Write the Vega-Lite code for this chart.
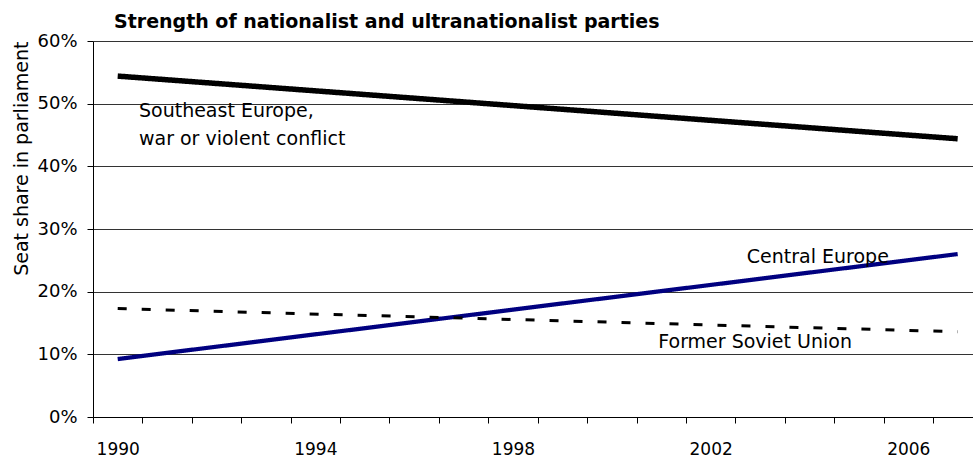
{
  "$schema": "https://vega.github.io/schema/vega-lite/v6.json",
  "width": 880,
  "height": 376,
  "autosize": {"type": "none"},
  "padding": {"left": 93, "top": 41, "right": 0, "bottom": 40},
  "background": "white",
  "title": {
    "text": "Strength of nationalist and ultranationalist parties",
    "anchor": "start",
    "frame": "group",
    "font": "DejaVu Sans",
    "fontSize": 19,
    "fontWeight": "bold",
    "color": "black",
    "dx": 21,
    "offset": 0
  },
  "config": {"view": {"stroke": null}, "font": "DejaVu Sans"},
  "layer": [
    {
      "data": {
        "values": [
          {"year": 1990, "share": 0.544, "series": "Southeast Europe"},
          {"year": 2007, "share": 0.444, "series": "Southeast Europe"},
          {"year": 1990, "share": 0.0925, "series": "Central Europe"},
          {"year": 2007, "share": 0.26, "series": "Central Europe"},
          {"year": 1990, "share": 0.173, "series": "Former Soviet Union"},
          {"year": 2007, "share": 0.136, "series": "Former Soviet Union"}
        ]
      },
      "mark": {"type": "line", "strokeCap": "butt"},
      "encoding": {
        "x": {
          "field": "year",
          "type": "quantitative",
          "scale": {"domain": [1989.5, 2007.31], "nice": false, "zero": false},
          "axis": {
            "values": [1989.5, 1990.5, 1991.5, 1992.5, 1993.5, 1994.5, 1995.5, 1996.5, 1997.5, 1998.5, 1999.5, 2000.5, 2001.5, 2002.5, 2003.5, 2004.5, 2005.5, 2006.5],
            "labelExpr": "(datum.value + 0.5) % 4 == 2 ? format(datum.value + 0.5, 'd') : ''",
            "labelOffset": 24.7,
            "labelOverlap": false,
            "labelFlush": false,
            "labelBound": false,
            "labelFont": "DejaVu Sans",
            "labelFontSize": 17,
            "labelColor": "black",
            "labelPadding": 18,
            "grid": false,
            "domainColor": "black",
            "domainWidth": 1,
            "tickColor": "black",
            "tickSize": 6,
            "title": null
          }
        },
        "y": {
          "field": "share",
          "type": "quantitative",
          "scale": {"domain": [0, 0.6], "nice": false},
          "axis": {
            "values": [0, 0.1, 0.2, 0.3, 0.4, 0.5, 0.6],
            "format": ".0%",
            "labelFont": "DejaVu Sans",
            "labelFontSize": 18,
            "labelColor": "black",
            "labelPadding": 10,
            "grid": true,
            "gridColor": "#333333",
            "gridWidth": 1,
            "domainColor": "black",
            "tickColor": "black",
            "tickSize": 6,
            "title": "Seat share in parliament",
            "titleFont": "DejaVu Sans",
            "titleFontSize": 19,
            "titleFontWeight": "normal",
            "titleColor": "black",
            "titleAnchor": "end",
            "titlePadding": 5
          }
        },
        "color": {
          "field": "series",
          "type": "nominal",
          "scale": {"domain": ["Southeast Europe", "Central Europe", "Former Soviet Union"], "range": ["#000000", "#000080", "#000000"]},
          "legend": null
        },
        "strokeWidth": {
          "field": "series",
          "type": "nominal",
          "scale": {"domain": ["Southeast Europe", "Central Europe", "Former Soviet Union"], "range": [5.5, 3, 4]},
          "legend": null
        },
        "strokeDash": {
          "field": "series",
          "type": "nominal",
          "scale": {"domain": ["Southeast Europe", "Central Europe", "Former Soviet Union"], "range": [[1, 0], [1, 0], [9, 15]]},
          "legend": null
        }
      }
    },
    {
      "data": {
        "values": [
          {"year": 1990.43, "share": 0.478, "label": "Southeast Europe,\nwar or violent conflict"}
        ]
      },
      "mark": {"type": "text", "font": "DejaVu Sans", "fontSize": 19, "color": "black", "align": "left", "baseline": "alphabetic", "lineBreak": "\n", "lineHeight": 28},
      "encoding": {
        "x": {"field": "year", "type": "quantitative"},
        "y": {"field": "share", "type": "quantitative"},
        "text": {"field": "label"}
      }
    },
    {
      "data": {
        "values": [
          {"year": 2004.17, "share": 0.245, "label": "Central Europe"},
          {"year": 2002.9, "share": 0.1096, "label": "Former Soviet Union"}
        ]
      },
      "mark": {"type": "text", "font": "DejaVu Sans", "fontSize": 19, "color": "black", "align": "center", "baseline": "alphabetic"},
      "encoding": {
        "x": {"field": "year", "type": "quantitative"},
        "y": {"field": "share", "type": "quantitative"},
        "text": {"field": "label"}
      }
    }
  ]
}
